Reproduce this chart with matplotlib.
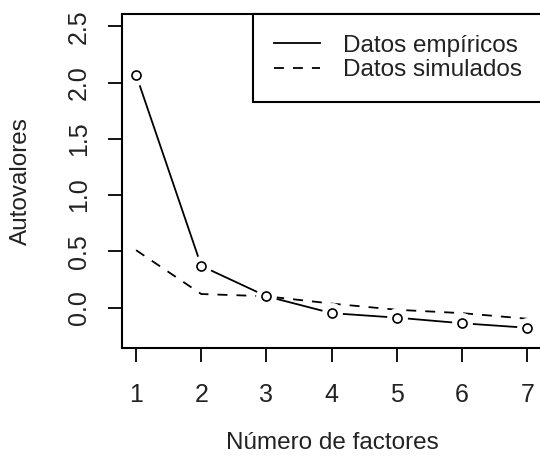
import numpy as np
import matplotlib.pyplot as plt

plt.rcParams['font.family'] = ['Liberation Sans', 'DejaVu Sans']

# Datos del gráfico de sedimentación
factores = [1, 2, 3, 4, 5, 6, 7]
empiricos = [2.07, 0.37, 0.10, -0.05, -0.09, -0.14, -0.18]
simulados = [0.51, 0.12, 0.10, 0.035, -0.02, -0.05, -0.10]
xticks = [1, 2, 3, 4, 5, 6, 7]
yticks = [0.0, 0.5, 1.0, 1.5, 2.0, 2.5]
ytick_labels = ["0.0", "0.5", "1.0", "1.5", "2.0", "2.5"]

fig = plt.figure(figsize=(5.4, 4.66), dpi=100)
ax = fig.add_axes([0.2254, 0.2532, 0.7802, 0.7167])

# Datos simulados: linea discontinua
ax.plot(factores, simulados, color="black", lw=1.3, dashes=(5.5, 5.0),
        label="Datos simulados", zorder=2)
# Datos empiricos: linea continua con puntos (tipo "b" de R)
ax.plot(factores, empiricos, color="black", lw=1.3, label="Datos empíricos", zorder=3)
ax.plot(factores, empiricos, ls="none", marker="o", ms=15, mfc="white", mec="none", zorder=4)
ax.plot(factores, empiricos, ls="none", marker="o", ms=6.5, mfc="white", mec="black",
        mew=1.2, zorder=5)

ax.set_xlim(0.78, 7.24)
ax.set_ylim(-0.36, 2.61)
ax.set_xticks(xticks)
ax.set_yticks(yticks)
ax.set_yticklabels(ytick_labels, rotation=90, va="center")
ax.tick_params(direction="out", length=10, width=1.3, labelsize=18, color="black",
               labelcolor="#222222")
ax.tick_params(axis="x", pad=15)
ax.tick_params(axis="y", pad=12)
for s in ax.spines.values():
    s.set_linewidth(1.5)

ax.set_xlabel("Número de factores", fontsize=17.5, va="center", color="#222222")
ax.xaxis.set_label_coords(0.5, -0.284)
ax.set_ylabel("Autovalores", fontsize=17.5, va="center", color="#222222")
ax.yaxis.set_label_coords(-0.238, 0.5)

handles, labels = ax.get_legend_handles_labels()
leg = ax.legend(handles[::-1], labels[::-1], loc="upper right", bbox_to_anchor=(1, 1),
                borderaxespad=0, fancybox=False, edgecolor="black", framealpha=1,
                fontsize=17.5, handlelength=1.9, handletextpad=0.95, labelspacing=0.1,
                borderpad=0.85, labelcolor="#222222")
leg.get_frame().set_linewidth(1.5)

fig.savefig("out.png", dpi=100)
